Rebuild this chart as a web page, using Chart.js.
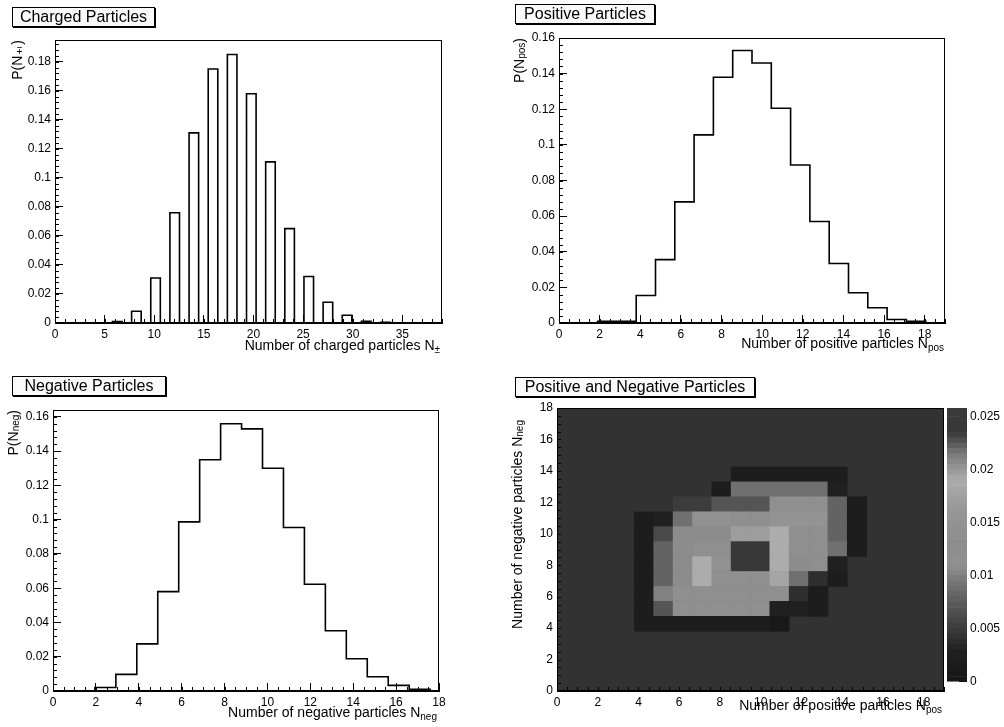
<!DOCTYPE html>
<html>
<head>
<meta charset="utf-8">
<script src="https://cdn.jsdelivr.net/npm/chart.js@4/dist/chart.umd.min.js"></script>
<style>
  body { margin: 0; background: #fff; width: 1004px; height: 727px; position: relative; overflow: hidden;
         font-family: "Liberation Sans", Arial, sans-serif; color: #000; }
  canvas, .pave, .atitle { position: absolute; }
  .pave { box-sizing: border-box; border: 1px solid #000; box-shadow: 1px 1px 0 #000; background: #fafafa;
          font-size: 16px; line-height: 18px; text-align: center; white-space: nowrap; }
  .atitle { font-size: 14px; line-height: 16px; white-space: nowrap; }
  .atitle sub { font-size: 10px; line-height: 0; vertical-align: -3px; }
  .vert { writing-mode: vertical-rl; transform: rotate(180deg); }
</style>
</head>
<body>

<canvas id="c1" width="470" height="360" style="left:0;top:0"></canvas>
<canvas id="c2" width="480" height="360" style="left:502px;top:0"></canvas>
<canvas id="c3" width="470" height="364" style="left:0;top:363px"></canvas>
<canvas id="c4" width="443" height="364" style="left:502px;top:363px"></canvas>
<canvas id="c5" width="64" height="320" style="left:940px;top:380px"></canvas>

<div class="pave" style="left:12px;top:7px;width:143px;height:20px">Charged Particles</div>
<div class="pave" style="left:515px;top:4px;width:140px;height:20px">Positive Particles</div>
<div class="pave" style="left:12px;top:376px;width:154px;height:20px">Negative Particles</div>
<div class="pave" style="left:515px;top:377px;width:240px;height:20px">Positive and Negative Particles</div>

<div class="atitle" style="right:564px;top:337px">Number of charged particles N<sub>±</sub></div>
<div class="atitle vert" style="left:9px;top:40px">P(N<sub>±</sub>)</div>
<div class="atitle" style="right:60px;top:335px">Number of positive particles N<sub>pos</sub></div>
<div class="atitle vert" style="left:511px;top:38px">P(N<sub>pos</sub>)</div>
<div class="atitle" style="right:567px;top:704px">Number of negative particles N<sub>neg</sub></div>
<div class="atitle vert" style="left:5px;top:410px">P(N<sub>neg</sub>)</div>
<div class="atitle" style="right:62px;top:697px">Number of positive particles N<sub>pos</sub></div>
<div class="atitle vert" style="left:509px;top:420px">Number of negative particles N<sub>neg</sub></div>

<script>
// ---- data (index = particle number) ----
const chargedProb = [0, 0, 0, 0, 0, 0, 0.001, 0, 0.0081, 0, 0.031, 0, 0.076, 0, 0.131, 0, 0.175, 0, 0.185, 0,
                     0.158, 0, 0.111, 0, 0.065, 0, 0.032, 0, 0.0143, 0, 0.0053, 0, 0.0012, 0, 0.0004, 0, 0, 0, 0, 0];
const positiveProb = [0, 0, 0.001, 0.001, 0.0154, 0.0356, 0.068, 0.1056, 0.138, 0.153,
                      0.146, 0.1206, 0.0887, 0.057, 0.0334, 0.017, 0.0086, 0.002, 0.001, 0];
const negativeProb = [0, 0, 0.002, 0.0097, 0.0275, 0.058, 0.0987, 0.135, 0.156, 0.153,
                      0.130, 0.0954, 0.0623, 0.0352, 0.0188, 0.0083, 0.0033, 0.001, 0];

// 2D: rows = N_neg bin, columns = N_pos bin (units of 0.001)
const pnProbMilli = [
  [0,0,0,0,0,0,0,0,0,0,0,0,0,0,0,0,0,0,0,0],
  [0,0,0,0,0,0,0,0,0,0,0,0,0,0,0,0,0,0,0,0],
  [0,0,0,0,0,0,0,0,0,0,0,0,0,0,0,0,0,0,0,0],
  [0,0,0,0,0,0,0,0,0,0,0,0,0,0,0,0,0,0,0,0],
  [0,0,0,0,2,2,2,2,2,2,2,1,0,0,0,0,0,0,0,0],
  [0,0,0,0,2,7,12,12,12,12,12,3,3,2,0,0,0,0,0,0],
  [0,0,0,0,2,10,14,14,14,14,14,12,4,2,0,0,0,0,0,0],
  [0,0,0,0,2,8,13,19,12,12,12,18,9,4,2,0,0,0,0,0],
  [0,0,0,0,2,8,13,19,11,24,24,19,13,12,3,0,0,0,0,0],
  [0,0,0,0,2,8,13,12,12,24,24,19,14,14,9,2,0,0,0,0],
  [0,0,0,0,2,6,13,13,13,17,17,19,14,14,8,2,0,0,0,0],
  [0,0,0,0,2,3,9,11,11,12,12,15,15,15,8,2,0,0,0,0],
  [0,0,0,0,0,0,5,5,7,7,7,12,12,12,8,2,0,0,0,0],
  [0,0,0,0,0,0,0,0,2,9,9,9,9,9,3,0,0,0,0,0],
  [0,0,0,0,0,0,0,0,0,2,2,2,2,2,2,0,0,0,0,0],
  [0,0,0,0,0,0,0,0,0,0,0,0,0,0,0,0,0,0,0,0],
  [0,0,0,0,0,0,0,0,0,0,0,0,0,0,0,0,0,0,0,0],
  [0,0,0,0,0,0,0,0,0,0,0,0,0,0,0,0,0,0,0,0],
  [0,0,0,0,0,0,0,0,0,0,0,0,0,0,0,0,0,0,0,0]
];

// bin widths as drawn on the axes
const CH_BIN = 0.965, POS_BIN = 0.95, NEG_BIN = 0.977, PN_BIN = 0.95;

// grey palette (value -> grey level)
const PAL_V = [0, 0.003, 0.005, 0.007, 0.009, 0.011, 0.013, 0.016, 0.019, 0.0215, 0.0235, 0.0258];
const PAL_G = [22, 32, 60, 85, 112, 145, 140, 150, 172, 120, 55, 58];
const PAL_STEP = 0.0005;

const FONT = { family: '"Liberation Sans", Arial, sans-serif', size: 12 };

function greyOf(v) {
  let k = 0;
  while (k < PAL_V.length - 2 && v > PAL_V[k + 1]) k++;
  const t = Math.max(0, Math.min(1, (v - PAL_V[k]) / (PAL_V[k + 1] - PAL_V[k])));
  const g = Math.round(PAL_G[k] + t * (PAL_G[k + 1] - PAL_G[k]));
  return `rgb(${g},${g},${g})`;
}

function stepPoints(values, w) {
  const pts = [{ x: 0, y: 0 }];
  values.forEach((v, k) => pts.push({ x: k * w, y: v }));
  pts.push({ x: values.length * w, y: 0 });
  return pts;
}

const fmt = v => String(parseFloat(v.toFixed(4)));
const majorOnly = step => v => Math.abs(v / step - Math.round(v / step)) < 1e-6 ? fmt(v) : '';

// frame, minor ticks, optional plot background
const rootFrame = {
  id: 'rootFrame',
  beforeDatasetsDraw(chart, args, opts) {
    if (!opts.fill) return;
    const a = chart.chartArea;
    chart.ctx.save();
    chart.ctx.fillStyle = opts.fill;
    chart.ctx.fillRect(a.left, a.top, a.width, a.height);
    chart.ctx.restore();
  },
  afterDatasetsDraw(chart, args, opts) {
    const { ctx, chartArea: a } = chart;
    ctx.save();
    ctx.strokeStyle = '#000';
    ctx.lineWidth = 1;
    ctx.beginPath();
    for (const [id, step] of Object.entries(opts.minor || {})) {
      const s = chart.scales[id];
      const n = Math.floor((s.max - s.min) / step + 1e-6);
      for (let k = 0; k <= n; k++) {
        const p = Math.round(s.getPixelForValue(s.min + k * step)) + 0.5;
        if (s.isHorizontal()) { ctx.moveTo(p, a.bottom); ctx.lineTo(p, a.bottom - 4); }
        else { ctx.moveTo(a.left, p); ctx.lineTo(a.left + 4, p); }
      }
    }
    ctx.stroke();
    if (opts.frame) ctx.strokeRect(a.left + 0.5, a.top + 0.5, a.width - 1, a.height - 1);
    ctx.restore();
  }
};

function axes(xMax, xStep, yMax, yStep, yWidth) {
  return {
    x: {
      type: 'linear', min: 0, max: xMax, offset: false,
      border: { color: '#000' },
      grid: { drawOnChartArea: false, offset: false, tickLength: -8, color: '#000' },
      ticks: { stepSize: xStep, includeBounds: false, padding: 12, color: '#000', font: FONT,
               maxRotation: 0, autoSkip: false, callback: majorOnly(xStep) },
      afterFit: s => { s.height = 18; }
    },
    y: {
      min: 0, max: yMax,
      border: { color: '#000' },
      grid: { drawOnChartArea: false, tickLength: -8, color: '#000' },
      ticks: { stepSize: yStep, includeBounds: false, padding: 12, color: '#000', font: FONT,
               autoSkip: false, callback: majorOnly(yStep) },
      afterFit: s => { s.width = yWidth; }
    }
  };
}

function histChart(id, values, w, ax, pad, minor) {
  new Chart(document.getElementById(id), {
    type: 'line',
    data: {
      datasets: [{
        data: stepPoints(values, w),
        stepped: 'before',
        borderColor: '#000',
        borderWidth: 1.6,
        pointRadius: 0,
        fill: false
      }]
    },
    options: {
      responsive: false, animation: false, events: [],
      layout: { padding: pad },
      plugins: { legend: { display: false }, tooltip: { enabled: false }, rootFrame: { frame: true, minor } },
      scales: ax
    },
    plugins: [rootFrame]
  });
}

histChart('c1', chargedProb, CH_BIN, axes(39, 5, 0.195, 0.02, 55),
          { left: 0, top: 40, right: 28, bottom: 19 }, { x: 1, y: 0.004 });
histChart('c2', positiveProb, POS_BIN, axes(19, 2, 0.16, 0.02, 57),
          { left: 0, top: 38, right: 37, bottom: 19 }, { x: 0.5, y: 0.004 });
histChart('c3', negativeProb, NEG_BIN, axes(18, 2, 0.164, 0.02, 53),
          { left: 0, top: 47, right: 31, bottom: 18 }, { x: 0.5, y: 0.004 });

// ---- 2D plot: one floating-bar dataset per N_neg row ----
new Chart(document.getElementById('c4'), {
  type: 'bar',
  data: {
    datasets: pnProbMilli.map((row, j) => ({
      data: row.map((m, i) => ({ x: (i + 0.5) * PN_BIN, y: [j * PN_BIN, (j + 1) * PN_BIN] })),
      backgroundColor: row.map(m => m > 0 ? greyOf(m / 1000) : 'rgba(0,0,0,0)'),
      borderWidth: 0,
      grouped: false,
      barPercentage: 1,
      categoryPercentage: 1
    }))
  },
  options: {
    responsive: false, animation: false, events: [],
    layout: { padding: { left: 0, top: 45, right: 1, bottom: 18 } },
    plugins: { legend: { display: false }, tooltip: { enabled: false },
               rootFrame: { frame: true, fill: 'rgb(50,50,50)', minor: { x: 0.5, y: 0.5 } } },
    scales: axes(19, 2, 18, 2, 55)
  },
  plugins: [rootFrame]
});

// ---- colour bar ----
const palLevels = [];
for (let v = 0; v < 0.0258 - 1e-9; v += PAL_STEP) palLevels.push(v);

new Chart(document.getElementById('c5'), {
  type: 'bar',
  data: {
    labels: ['z'],
    datasets: palLevels.map(lo => ({
      data: [[lo, Math.min(lo + PAL_STEP, 0.0258)]],
      backgroundColor: greyOf(lo + PAL_STEP / 2),
      borderWidth: 0, grouped: false, barPercentage: 1, categoryPercentage: 1
    }))
  },
  options: {
    responsive: false, animation: false, events: [],
    layout: { padding: { left: 7, top: 28, right: 0, bottom: 11 } },
    plugins: { legend: { display: false }, tooltip: { enabled: false } },
    scales: {
      x: { display: false },
      y: {
        position: 'right', min: 0, max: 0.0258,
        border: { display: false },
        grid: { drawOnChartArea: false, tickLength: -8, color: '#000' },
        ticks: { stepSize: 0.005, includeBounds: false, padding: 11, color: '#000', font: FONT,
                 autoSkip: false, callback: majorOnly(0.005) },
        afterFit: s => { s.width = 37; }
      }
    }
  }
});
</script>
</body>
</html>
